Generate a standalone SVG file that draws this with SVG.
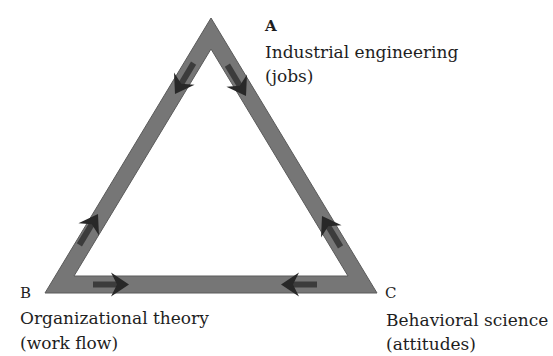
<svg xmlns="http://www.w3.org/2000/svg" xmlns:xlink="http://www.w3.org/1999/xlink" width="553" height="356" viewBox="0 0 553 356">
  <style>
    .lbl { font-family: "DejaVu Serif", "Liberation Serif", serif; font-size: 17px; fill: #1e1e1e; }
    .key { font-family: "DejaVu Serif", "Liberation Serif", serif; font-size: 15px; fill: #1e1e1e; }
    .band { fill: #767676; fill-rule: evenodd; stroke: #5a5a5a; stroke-width: 1; }
    .arr { fill: #282828; }
    .shaft { fill: #3c3c3c; }
  </style>
  <defs>
    <g id="arrow">
      <rect class="shaft" x="-36" y="-3" width="26" height="6"/>
      <path class="arr" d="M0,0 L-18,-12 L-12,0 L-18,12 Z"/>
    </g>
  </defs>
  <rect width="553" height="356" fill="#ffffff"/>

  <g id="triangle">
    <path class="band" d="M211,18 L377,293 L45,293 Z M211,49 L74,276 L348,276 Z"/>
  </g>

  <g id="connectors">
    <use xlink:href="#arrow" href="#arrow" transform="translate(175,94) rotate(121.1)"/>
    <use xlink:href="#arrow" href="#arrow" transform="translate(246,96) rotate(58.9)"/>
    <use xlink:href="#arrow" href="#arrow" transform="translate(98,214) rotate(-58.9)"/>
    <use xlink:href="#arrow" href="#arrow" transform="translate(322,216) rotate(-121.1)"/>
    <use xlink:href="#arrow" href="#arrow" transform="translate(129,284.5) rotate(0)"/>
    <use xlink:href="#arrow" href="#arrow" transform="translate(281,284.5) rotate(180)"/>
  </g>

  <g id="node-A">
    <text class="key" x="265" y="31" font-weight="bold">A</text>
    <text class="lbl" x="265" y="58">Industrial engineering</text>
    <text class="lbl" x="265" y="82">(jobs)</text>
  </g>

  <g id="node-B">
    <text class="key" x="20" y="298">B</text>
    <text class="lbl" x="20" y="324">Organizational theory</text>
    <text class="lbl" x="20" y="349">(work flow)</text>
  </g>

  <g id="node-C">
    <text class="key" x="385" y="298">C</text>
    <text class="lbl" x="386" y="326">Behavioral science</text>
    <text class="lbl" x="386" y="350">(attitudes)</text>
  </g>
</svg>
